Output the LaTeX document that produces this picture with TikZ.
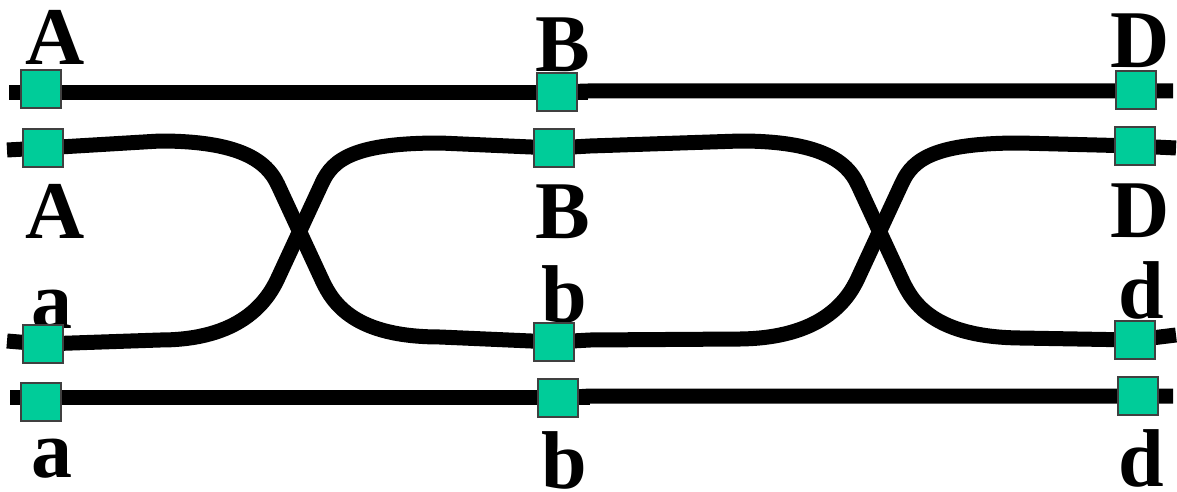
\documentclass[tikz,border=0pt]{standalone}
\usepackage{fontspec}
\setmainfont{Liberation Serif}
\definecolor{portgreen}{RGB}{0,204,153}
\begin{document}
\begin{tikzpicture}[x=1pt,y=-1pt,
  wire/.style={line width=15pt, line join=round},
  port/.style={draw=black!75, line width=1.2pt, fill=portgreen, minimum width=40pt, minimum height=38pt, inner sep=0pt},
  lab/.style={anchor=base, inner sep=0pt, text depth=0pt, font=\fontsize{82}{82}\selectfont\bfseries}]
\useasboundingbox (0,0) rectangle (1177,492);
% labels
\node[lab] (tA1) at (55,65) {A};
\node[lab] (tA2) at (55,238) {A};
\node[lab] (ta3) at (52,328) {a};
\node[lab] (ta4) at (52,477) {a};
\node[lab] (tB1) at (563,72) {B};
\node[lab] (tB2) at (563,238) {B};
\node[lab] (tb3) at (564,322) {b};
\node[lab] (tb4) at (564,488) {b};
\node[lab] (tD1) at (1140,68) {D};
\node[lab] (tD2) at (1140,237) {D};
\node[lab] (td3) at (1141,318) {d};
\node[lab] (td4) at (1141,486) {d};
% port positions
\coordinate (A1) at (41,89);  \coordinate (B1) at (557,92);  \coordinate (D1) at (1136,90);
\coordinate (A2) at (43,148); \coordinate (B2) at (554,148); \coordinate (D2) at (1135,146);
\coordinate (a3) at (43,344); \coordinate (b3) at (554,342); \coordinate (d3) at (1135,340);
\coordinate (a4) at (41,402); \coordinate (b4) at (558,398); \coordinate (d4) at (1138,396);
% free ends
\coordinate (L1) at (9,93);   \coordinate (R1) at (1173,91);
\coordinate (L2) at (7,150);  \coordinate (R2) at (1176,148);
\coordinate (L3) at (7,341);  \coordinate (R3) at (1176,335);
\coordinate (L4) at (10,397); \coordinate (R4) at (1173,396);
% straight wires
\draw[wire] (L1) -- (588,93);
\draw[wire] (B1) -- (588,91) -- (R1);
\draw[wire] (L4) -- (590,397);
\draw[wire] (b4) -- (590,396) -- (R4);
% crossing wires, first crossover
\draw[wire] (L2) -- (A2) -- (160,141) .. controls (240,141) and (267,161) .. (278,185)
  -- (322,280) .. controls (333,304) and (355,337) .. (440,337) -- (b3);
\draw[wire] (L3) -- (a3) -- (160,340) .. controls (240,340) and (267,302) .. (278,278)
  -- (322,183) .. controls (333,159) and (355,143) .. (440,143) -- (B2);
% second crossover
\draw[wire] (B2) -- (590,146) -- (740,141) .. controls (820,141) and (847,161) .. (858,185)
  -- (902,280) .. controls (913,304) and (935,337) .. (1020,338) -- (d3) -- (R3);
\draw[wire] (b3) -- (590,340) -- (740,339) .. controls (820,338) and (847,302) .. (858,278)
  -- (902,183) .. controls (913,159) and (935,143) .. (1020,143) -- (D2) -- (R2);
% ports
\foreach \p in {A1,B1,D1,A2,B2,D2,a3,b3,d3,a4,b4,d4}
  \node[port] (n\p) at (\p) {};
\end{tikzpicture}
\end{document}
